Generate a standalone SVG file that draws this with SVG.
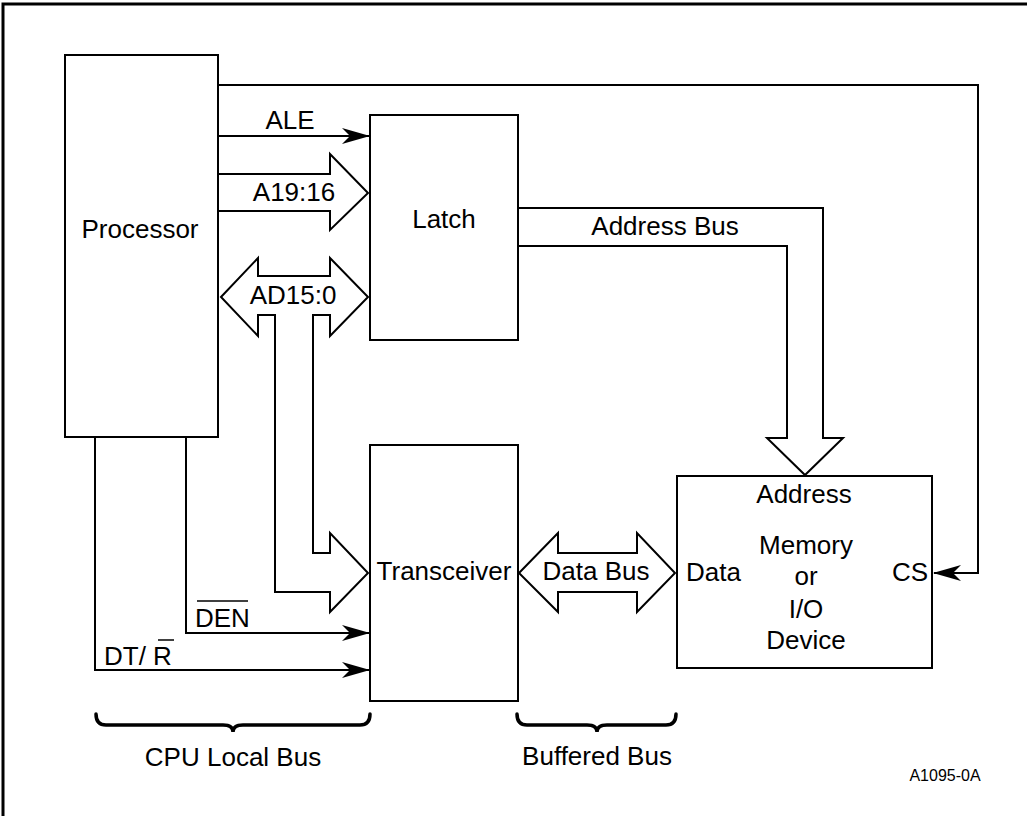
<svg xmlns="http://www.w3.org/2000/svg" width="1027" height="816" viewBox="0 0 1027 816">
<style>
.box{fill:#fff;stroke:#000;stroke-width:2}
.bus{fill:#fff;stroke:#000;stroke-width:2;stroke-linejoin:miter}
.ln{fill:none;stroke:#000;stroke-width:2}
.br{fill:none;stroke:#000;stroke-width:3.5;stroke-linecap:round}
text{font-family:"Liberation Sans",Arial,sans-serif;font-size:26px;fill:#000}
.m{text-anchor:middle}
</style>
<defs>
<marker id="ah" viewBox="0 0 28 16" refX="27" refY="8" markerWidth="28" markerHeight="16" markerUnits="userSpaceOnUse" orient="auto">
<path d="M0,0 L28,8 L0,16 L8,8 Z" fill="#000"/>
</marker>
</defs>
<rect width="1027" height="816" fill="#fff"/>
<path d="M3,816 L3,4 L1027,4" fill="none" stroke="#000" stroke-width="3"/>

<g id="connectors">
<polyline class="ln" points="218,85 978,85 978,573 934,573" marker-end="url(#ah)"/>
<line class="ln" x1="218" y1="136" x2="369" y2="136" marker-end="url(#ah)"/>
<polyline class="ln" points="186,437 186,633 369,633" marker-end="url(#ah)"/>
<polyline class="ln" points="95,437 95,670 369,670" marker-end="url(#ah)"/>
<polyline class="bus" points="218,174 330,174 330,154 368,193 330,230 330,211 218,211"/>
<polygon class="bus" points="221,297 258,258 258,276 330,276 330,258 368,297 330,336 330,315 313,315 313,553 330,553 330,533 368,573 330,612 330,592 275,592 275,315 258,315 258,336"/>
<polyline class="bus" points="518,208 823,208 823,438 843,438 805,475 767,438 787,438 787,246 518,246"/>
<polygon class="bus" points="519,573 558,533 558,553 637,553 637,533 675,573 637,612 637,592 558,592 558,612"/>
<text x="290" y="129" class="m">ALE</text>
<text x="294" y="201" class="m">A19:16</text>
<text x="293" y="304" class="m">AD15:0</text>
<text x="665" y="235" class="m">Address Bus</text>
<text x="596" y="580" class="m">Data Bus</text>
<text x="195" y="627">DEN</text>
<line x1="197" y1="601" x2="248" y2="601" stroke="#000" stroke-width="1.5"/>
<text x="104" y="665">DT/ R</text>
<line x1="158" y1="640" x2="174" y2="640" stroke="#000" stroke-width="1.5"/>
</g>

<g id="processor">
<rect class="box" x="65" y="55" width="153" height="382"/>
<text x="140" y="238" class="m">Processor</text>
</g>
<g id="latch">
<rect class="box" x="370" y="115" width="148" height="225"/>
<text x="444" y="228" class="m">Latch</text>
</g>
<g id="transceiver">
<rect class="box" x="370" y="445" width="148" height="256"/>
<text x="444" y="580" class="m">Transceiver</text>
</g>
<g id="memory">
<rect class="box" x="677" y="476" width="255" height="192"/>
<text x="804" y="503" class="m">Address</text>
<text x="806" y="554" class="m">Memory</text>
<text x="806" y="585" class="m">or</text>
<text x="806" y="618" class="m">I/O</text>
<text x="806" y="649" class="m">Device</text>
<text x="686" y="581">Data</text>
<text x="928" y="581" text-anchor="end">CS</text>
</g>

<g id="braces">
<path class="br" d="M96,714 Q96,725 106,725 L223,725 Q233,725 233,732 Q233,725 243,725 L360,725 Q370,725 370,714"/>
<text x="233" y="766" class="m">CPU Local Bus</text>
<path class="br" d="M517,714 Q517,725 527,725 L587,725 Q597,725 597,732 Q597,725 607,725 L666,725 Q676,725 676,714"/>
<text x="597" y="765" class="m">Buffered Bus</text>
</g>
<text x="945" y="781" class="m" style="font-size:16px">A1095-0A</text>
</svg>
